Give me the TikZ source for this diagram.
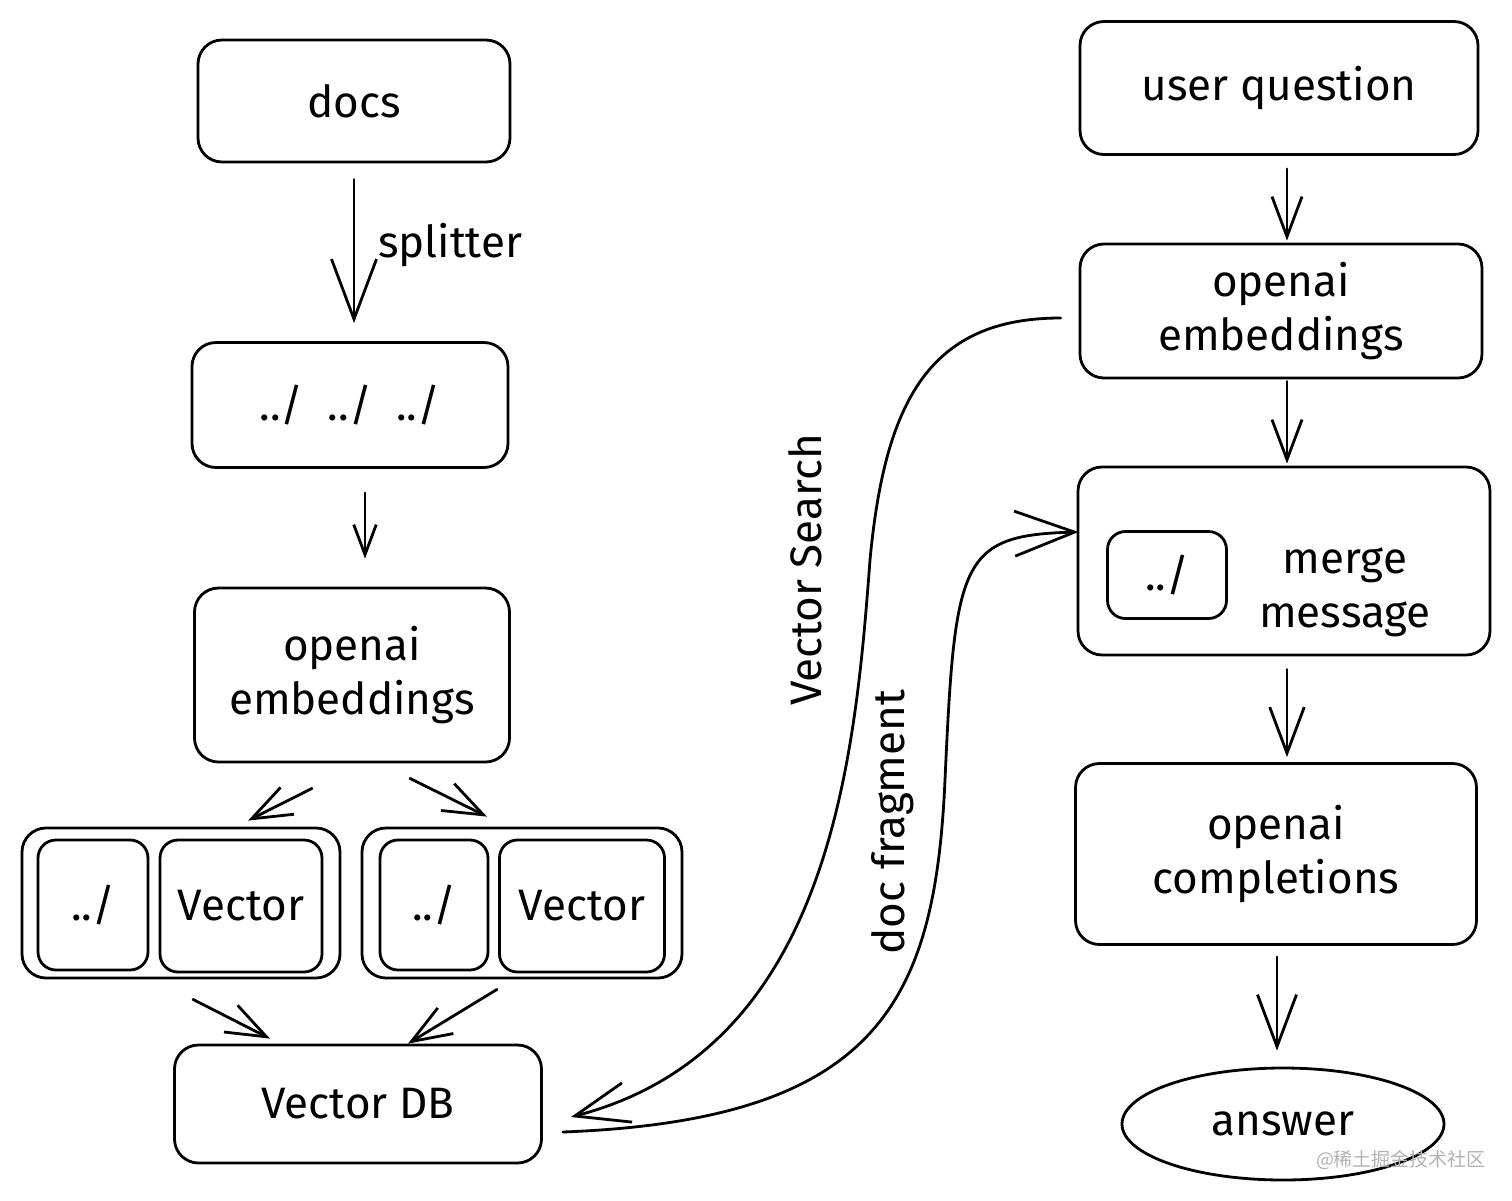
\documentclass[tikz,border=0pt]{standalone}
\usepackage{fontspec}
\setmainfont{Fira Sans}
\newfontfamily\cjkfont{Noto Sans CJK SC}
\usetikzlibrary{
  shapes.geometric, % Shape "ellipse"
  arrows.meta,      % Tip "Straight Barb"
  positioning,
  calc
}
\tikzset{
  font=\fontsize{22}{27}\selectfont,
  sketch/.style={line width=1.4pt,line cap=round,line join=round},
  my tip/.style={-{Straight Barb[length=#1,width'=0pt 0.75]}},
  my tip/.default=20pt,
  my box/.style={
    draw,
    rectangle,
    rounded corners=12pt,
    align=center,
    inner sep=2mm
  },
  my small/.style={
    my box,
    rounded corners=9pt
  },
  my label/.style={
    inner sep=0pt,
    rotate=90
  }
}

\begin{document}
\begin{tikzpicture}[sketch,x=0.5pt,y=-0.5pt]
\useasboundingbox (0,0) rectangle (1512,1201);
% left column
\node[my box,minimum width=156pt,minimum height=61pt]   (docs)  at (354,101)  {docs};
\node[my box,minimum width=158pt,minimum height=62.5pt] (files) at (350,405)  {../\;\;../\;\;../};
\node[my box,minimum width=157.5pt,minimum height=87pt] (embL)  at (352,675)  {openai\\embeddings};
\node[my box,minimum width=159pt,minimum height=75pt]   (grpA)  at (181,903)  {};
\node[my small,minimum width=55pt,minimum height=65pt]  (dotsA) at (93,905)   {../};
\node[my small,minimum width=81pt,minimum height=66pt]  (vecA)  at (241,906)  {Vector};
\node[my box,minimum width=160pt,minimum height=75pt]   (grpB)  at (522,903)  {};
\node[my small,minimum width=54pt,minimum height=65pt]  (dotsB) at (434,905)  {../};
\node[my small,minimum width=82.5pt,minimum height=66pt](vecB)  at (582,906)  {Vector};
\node[my box,minimum width=183.5pt,minimum height=59pt] (db)    at (358,1104) {Vector DB};
% right column
\node[my box,minimum width=199pt,minimum height=66.5pt] (question) at (1279,88)  {user question};
\node[my box,minimum width=201pt,minimum height=67pt]   (embR)     at (1281,311) {openai\\embeddings};
\node[my box,minimum width=206pt,minimum height=94pt]   (merge)    at (1284,561) {};
\node[my small,minimum width=59.5pt,minimum height=43.5pt] (dotsM) at (1167,575) {../};
\node[align=center,inner sep=0pt]                       (mergetxt) at (1345,592) {merge\\message};
\node[my box,minimum width=200.5pt,minimum height=90.5pt] (compl)  at (1276,854) {openai\\completions};
\node[draw,ellipse,minimum width=161pt,minimum height=56pt] (answer) at (1283,1124) {answer};
% curve labels
\node[my label] (search) at (805,570) {Vector Search};
\node[my label] (frag)   at (893,822) {doc fragment};
\node[text=gray!60,inner sep=0pt,font=\cjkfont\fontsize{9.5}{11}\selectfont] (mark) at (1401,1160) {@稀土掘金技术社区};

\path (docs.south) edge[my tip=30pt,shorten <=8pt,shorten >=9pt]
                     node[right=8pt,pos=0.46] {splitter} (docs.south |- files.north)
      ([xshift=7.5pt]files.south) edge[my tip=15pt,shorten <=12pt,shorten >=14pt]
                     ([xshift=7.5pt]files.south |- embL.north)
      ([xshift=-20pt,yshift=-12.5pt]embL.south) edge[my tip]
                     ([xshift=33.5pt,yshift=3pt]grpA.north)
      ([xshift=29pt,yshift=-7.5pt]embL.south) edge[my tip]
                     ([xshift=-17.5pt,yshift=5pt]grpB.north)
      ([xshift=6pt,yshift=-10pt]grpA.south) edge[my tip]
                     ([xshift=-44pt,yshift=2.5pt]db.north)
      ([xshift=-12.5pt,yshift=-5pt]grpB.south) edge[my tip]
                     ([xshift=25pt]db.north);
\path ([xshift=4pt]question.south) edge[my tip,shorten <=6.5pt,shorten >=1pt]
                     ([xshift=4pt]question.south |- embR.north)
      ([xshift=3pt]embR.south) edge[my tip,shorten <=1pt,shorten >=1pt]
                     ([xshift=3pt]embR.south |- merge.north)
      ([xshift=1.5pt]merge.south) edge[my tip=23pt,shorten <=6.5pt,shorten >=2.5pt]
                     ([xshift=1.5pt]merge.south |- compl.north)
      ([xshift=0.5pt]compl.south) edge[my tip=26pt,shorten <=5.5pt,shorten >=8pt]
                     ([xshift=0.5pt]compl.south |- answer.north);
% vector search and answer fragment
\draw[my tip=27pt] ([xshift=-9pt,yshift=-3.5pt]embR.west)
      .. controls (930,318) and (885,400) .. (870,560)
      .. controls (855,760) and (830,1050) .. ([xshift=14pt,yshift=-6.5pt]db.east);
\draw[my tip=30pt] ([xshift=10pt,yshift=-14pt]db.east)
      .. controls (880,1120) and (935,1000) .. (945,780)
      .. controls (955,560) and (960,535) .. ([xshift=1pt,yshift=14.5pt]merge.west);
\end{tikzpicture}
\end{document}
